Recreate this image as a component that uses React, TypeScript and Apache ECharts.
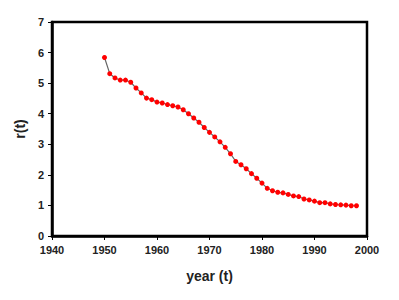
import React, { useEffect, useRef } from "react";
import * as echarts from "echarts";

const years = [
  1950, 1951, 1952, 1953, 1954, 1955, 1956, 1957, 1958, 1959,
  1960, 1961, 1962, 1963, 1964, 1965, 1966, 1967, 1968, 1969,
  1970, 1971, 1972, 1973, 1974, 1975, 1976, 1977, 1978, 1979,
  1980, 1981, 1982, 1983, 1984, 1985, 1986, 1987, 1988, 1989,
  1990, 1991, 1992, 1993, 1994, 1995, 1996, 1997, 1998,
];
const rValues = [
  5.84, 5.31, 5.17, 5.10, 5.10, 5.03, 4.84, 4.68, 4.51, 4.46,
  4.38, 4.35, 4.30, 4.26, 4.22, 4.13, 4.00, 3.86, 3.72, 3.55,
  3.39, 3.24, 3.08, 2.90, 2.69, 2.44, 2.33, 2.20, 2.04, 1.89,
  1.73, 1.56, 1.48, 1.43, 1.41, 1.36, 1.31, 1.29, 1.21, 1.18,
  1.14, 1.09, 1.09, 1.05, 1.03, 1.02, 1.01, 0.99, 0.99,
];
const xAxisName = "year (t)";
const yAxisName = "r(t)";

export default function App() {
  const ref = useRef<HTMLDivElement>(null);
  useEffect(() => {
    if (!ref.current) return;
    const chart = echarts.init(ref.current, null, { renderer: "svg" });
    const font = "'Liberation Sans', Arial, sans-serif";
    chart.setOption({
      animation: false,
      backgroundColor: "#ffffff",
      grid: {
        left: 52,
        right: 32,
        top: 22,
        bottom: 64,
        show: true,
        borderColor: "#000",
        borderWidth: 2.5,
        backgroundColor: "transparent",
      },
      xAxis: {
        type: "value",
        min: 1940,
        max: 2000,
        interval: 10,
        name: xAxisName,
        nameLocation: "middle",
        nameGap: 33,
        nameTextStyle: { fontFamily: font, fontWeight: "bold", fontSize: 14, color: "#222" },
        axisLine: { show: true, lineStyle: { color: "#000", width: 2.5 } },
        axisTick: { show: true, inside: false, length: 4, lineStyle: { color: "#000", width: 1 } },
        axisLabel: {
          fontFamily: font,
          fontWeight: "bold",
          fontSize: 11,
          color: "#222",
          margin: 8,
          formatter: (v: number) => String(v),
        },
        splitLine: { show: false },
      },
      yAxis: {
        type: "value",
        min: 0,
        max: 7,
        interval: 1,
        name: yAxisName,
        nameLocation: "middle",
        nameGap: 21,
        nameRotate: 90,
        nameTextStyle: { fontFamily: font, fontWeight: "bold", fontSize: 14, color: "#222" },
        axisLine: { show: true, lineStyle: { color: "#000", width: 2.5 } },
        axisTick: { show: true, inside: false, length: 4, lineStyle: { color: "#000", width: 1 } },
        axisLabel: { fontFamily: font, fontWeight: "bold", fontSize: 11, color: "#222", margin: 8 },
        splitLine: { show: false },
      },
      series: [
        {
          type: "line",
          data: years.map((y, i) => [y, rValues[i]]),
          symbol: "circle",
          symbolSize: 5,
          itemStyle: { color: "#ff0000" },
          lineStyle: { color: "#666", width: 1.2 },
        },
      ],
    });
    return () => chart.dispose();
  }, []);
  return <div ref={ref} style={{ width: 399, height: 300, position: "absolute", left: 0, top: 0 }} />;
}
